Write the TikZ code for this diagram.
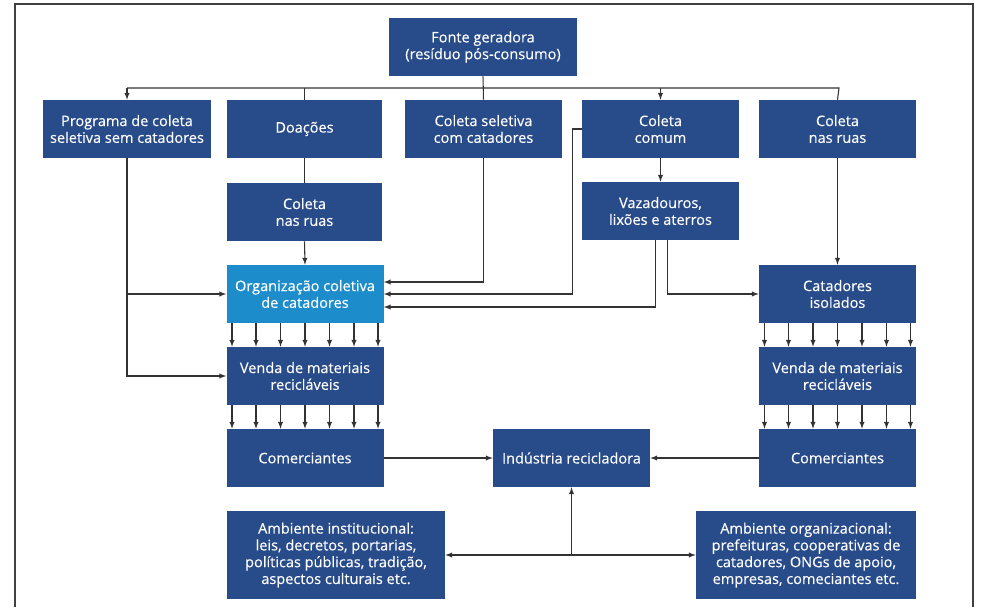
\documentclass[tikz,border=0pt]{standalone}
\usepackage{fontspec}
\setmainfont{Open Sans}
\newfontfamily\caixafont{Open Sans}[FakeBold=0.3]
\definecolor{caixa}{HTML}{284B8A}
\definecolor{caixaclara}{HTML}{1C8CCB}
\definecolor{linha}{HTML}{333333}

\begin{document}
\begin{tikzpicture}[>=latex, x=0.75pt, y=-0.75pt,
	caixa/.style={fill=caixa, text=white, inner sep=0pt, align=center, minimum height=43.5pt, minimum width=117.75pt, font=\caixafont\fontsize{10.9}{12.6}\selectfont},
	seta/.style={->, linha, line width=0.8pt},
	fio/.style={linha, line width=0.8pt}]
	\useasboundingbox (0,0) rectangle (988,607);
	\draw [black!75, line width=1.1pt] (15,607) -- (15,4) -- (973,4) -- (973,607);
	\node [caixa, minimum width=141pt] (fonte) at (483,47) {Fonte geradora\\(resíduo pós-consumo)};
	\node [caixa, minimum width=126pt] (prog) at (127,129) {Programa de coleta\\seletiva sem catadores};
	\node [caixa, minimum width=116.25pt] (doacoes) at (304.5,129) {Doações};
	\node [caixa] (colsel) at (483.5,129) {Coleta seletiva\\com catadores};
	\node [caixa] (colcom) at (660.5,129) {Coleta\\comum};
	\node [caixa] (ruasR) at (837.5,129) {Coleta\\nas ruas};
	\node [caixa, minimum width=116.25pt] (ruasL) at (304.5,212) {Coleta\\nas ruas};
	\node [caixa] (vaza) at (660.5,211) {Vazadouros,\\lixões e aterros};
	\node [caixa, fill=caixaclara] (org) at (305,294) {Organização coletiva\\de catadores};
	\node [caixa] (cati) at (837.5,294) {Catadores\\isolados};
	\node [caixa] (vendaL) at (305,376) {Venda de materiais\\recicláveis};
	\node [caixa] (vendaR) at (837.5,376) {Venda de materiais\\recicláveis};
	\node [caixa] (comL) at (305,458) {Comerciantes};
	\node [caixa] (ind) at (571.5,458) {Indústria recicladora};
	\node [caixa] (comR) at (837.5,458) {Comerciantes};
	\node [caixa, minimum width=163.5pt, minimum height=66pt] (ambI) at (336,555) {Ambiente institucional:\\leis, decretos, portarias,\\políticas públicas, tradição,\\aspectos culturais etc.};
	\node [caixa, minimum width=165pt, minimum height=66pt] (ambO) at (806,555) {Ambiente organizacional:\\prefeituras, cooperativas de\\catadores, ONGs de apoio,\\empresas, comeciantes etc.};
	\coordinate (busL) at (127,88);
	\coordinate (busR) at (839,88);
	\draw [fio] (busL) -- (busR) -- (ruasR.north);
	\draw [fio] (fonte.south) -- (colsel.north);
	\draw [seta] (busL) -- (prog.north);
	\draw [fio] (doacoes.north |- busL) -- (doacoes.north);
	\draw [seta] (colcom.north |- busL) -- (colcom.north);
	\draw [fio] (doacoes.south) -- (ruasL.north);
	\draw [seta] (ruasL.south) -- (org.north);
	\draw [seta] (colcom.south) -- (vaza.north);
	\draw [seta] (ruasR.south) -- (cati.north);
	\draw [seta] (prog.south) |- (vendaL.west);
	\draw [seta] (prog.south |- org.west) -- (org.west);
	\draw [seta] (colsel.south) |- ([yshift=9pt]org.east);
	\draw [seta] (colcom.west) -- ++(-9,0) |- (org.east);
	\draw [seta] ([xshift=-4pt]vaza.south) |- ([yshift=-9.75pt]org.east);
	\draw [seta] ([xshift=4.9pt]vaza.south) |- (cati.west);
	\foreach \dx in {-73,-49,-24.5,0,24.5,49,73} {
		\draw [seta] ([xshift=\dx*0.75pt]org.south) -- ([xshift=\dx*0.75pt]vendaL.north);
		\draw [seta] ([xshift=\dx*0.75pt]vendaL.south) -- ([xshift=\dx*0.75pt]comL.north);
		\draw [seta] ([xshift=\dx*0.75pt]cati.south) -- ([xshift=\dx*0.75pt]vendaR.north);
		\draw [seta] ([xshift=\dx*0.75pt]vendaR.south) -- ([xshift=\dx*0.75pt]comR.north);
	}
	\draw [seta] (comL.east) -- (ind.west);
	\draw [seta] (comR.west) -- (ind.east);
	\coordinate (jn) at (ind.south |- ambI.east);
	\draw [seta] (jn) -- (ind.south);
	\draw [seta] (jn) -- (ambI.east);
	\draw [seta] (jn) -- (ambO.west);
\end{tikzpicture}
\end{document}
